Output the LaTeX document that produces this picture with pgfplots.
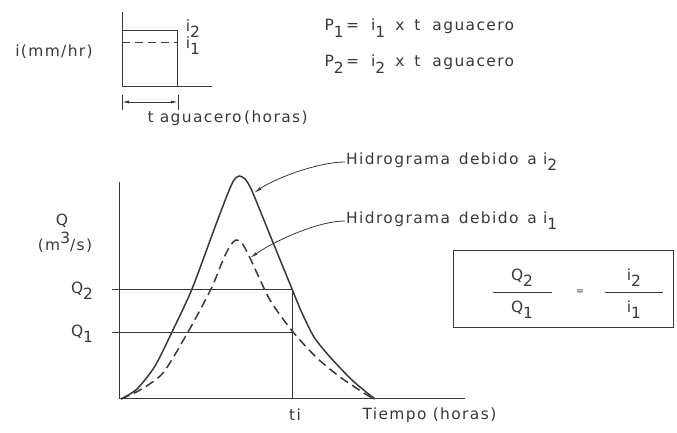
\documentclass[border=0pt]{standalone}
\usepackage{fontspec}
\setmainfont{DejaVu Sans}[LetterSpace=9]
\usepackage{pgfplots}
\pgfplotsset{compat=1.18}
\usetikzlibrary{arrows.meta}
\definecolor{ink}{HTML}{383838}
\newcommand\sub[1]{\raisebox{-0.4em}{#1}}
\newcommand\tsize{\fontsize{15.5}{18}\selectfont}
\begin{document}
\begin{tikzpicture}[font=\tsize, color=ink]
\useasboundingbox (0,0) rectangle (677bp,433bp);
% ---------------- main hydrograph axis ----------------
\begin{axis}[
  at={(119bp,34bp)}, anchor=origin,
  x=1bp, y=1bp, xmin=0, xmax=346, ymin=0, ymax=217,
  axis x line=bottom, axis y line=left,
  axis line style={-, ink, line width=1bp},
  xtick=\empty, ytick=\empty, clip=false,
]
% hydrograph due to i2 (solid)
\addplot[ink, line width=1.5bp, smooth, tension=0.45] coordinates {
 (2,0) (18,10) (36,33) (53,67) (73,110) (96,172) (109,206) (115,219)
 (120,223) (126,220) (133,208) (153,159) (173,110) (183,86) (195,62)
 (211,42) (234,18) (256,0)};
% hydrograph due to i1 (dashed)
\addplot[ink, line width=1.5bp, dash pattern=on 9bp off 5bp, smooth, tension=0.45] coordinates {
 (2,0) (21,9) (44,26) (69,67) (92,110) (104,139) (111,153) (117,159)
 (123,156) (131,141) (151,99) (174,67) (198,41) (221,22) (248,4) (256,0)};
% Q2, Q1 levels and ti
\addplot[ink, line width=0.8bp] coordinates {(-7,110) (173,110)};
\addplot[ink, line width=0.8bp] coordinates {(-7,67) (173,67)};
\addplot[ink, line width=0.8bp] coordinates {(173,110) (173,0)};
% labels
\node at (axis cs:-57,178) {Q};
\node at (axis cs:-54,157) {(m\raisebox{0.45em}{3}/s)};
\node at (axis cs:-37,108) {Q\sub{2}};
\node at (axis cs:-37,65) {Q\sub{1}};
\node at (axis cs:176,-16) {ti};
\node[anchor=west] at (axis cs:240,-16) {Tiempo (horas)};
% annotations
\node[anchor=west, inner sep=1bp] at (axis cs:226,237) {Hidrograma\, debido\, a i\sub{2}};
\node[anchor=west, inner sep=1bp] at (axis cs:226,178) {Hidrograma\, debido\, a i\sub{1}};
\draw[ink, line width=0.8bp, -{Latex[length=8bp,width=3bp]}] (axis cs:226,237) to[out=180,in=35,looseness=0.7] (axis cs:135,206);
\draw[ink, line width=0.8bp, -{Latex[length=8bp,width=3bp]}] (axis cs:226,178) to[out=180,in=35,looseness=0.7] (axis cs:131,141);
% ratio box
\draw[ink, line width=1bp] (axis cs:334,71) rectangle (axis cs:554,148);
\node at (axis cs:403,121) {Q\sub{2}};
\node at (axis cs:403,89) {Q\sub{1}};
\draw[ink, line width=0.9bp] (axis cs:374,107) -- (axis cs:433,107);
\node[font=\fontsize{10}{12}\selectfont] at (axis cs:461,107) {=};
\node at (axis cs:515,121) {i\sub{2}};
\node at (axis cs:515,89) {i\sub{1}};
\draw[ink, line width=0.9bp] (axis cs:486,107) -- (axis cs:544,107);
\end{axis}
% ---------------- rainfall inset axis ----------------
\begin{axis}[
  at={(122bp,346bp)}, anchor=origin,
  x=1bp, y=1bp, xmin=0, xmax=90, ymin=0, ymax=75,
  axis x line=bottom, axis y line=left,
  axis line style={-, ink, line width=1bp},
  xtick=\empty, ytick=\empty, clip=false,
]
\addplot[ink, line width=1bp] coordinates {(0,56) (56,56) (56,0)};
\addplot[ink, line width=1bp, dash pattern=on 8bp off 5bp] coordinates {(0,44) (56,44)};
\node at (axis cs:71,58) {i\sub{2}};
\node at (axis cs:71,41) {i\sub{1}};
\node at (axis cs:-68,35) {i(mm/hr)};
% duration dimension
\draw[ink, line width=0.8bp, {Latex[length=7bp,width=3bp]}-{Latex[length=7bp,width=3bp]}] (axis cs:0,-15) -- (axis cs:56,-15);
\draw[ink, line width=0.8bp] (axis cs:0,-8) -- (axis cs:0,-23);
\draw[ink, line width=0.8bp] (axis cs:56,-8) -- (axis cs:56,-23);
\node[anchor=west] at (axis cs:22,-31) {t aguacero\,(horas)};
% equations
\node[anchor=base west] at (axis cs:199,56) {P\sub{1}\,=\hspace{12bp}i\sub{1}\hspace{10bp}x\hspace{10bp}t\hspace{12bp}aguacero};
\node[anchor=base west] at (axis cs:199,20) {P\sub{2}\,=\hspace{12bp}i\sub{2}\hspace{10bp}x\hspace{10bp}t\hspace{12bp}aguacero};
\end{axis}
\end{tikzpicture}
\end{document}
